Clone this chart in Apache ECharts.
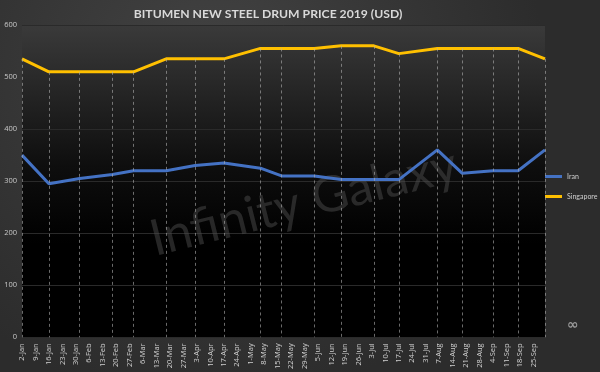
<!DOCTYPE html>
<html>
<head>
<meta charset="utf-8">
<script src="https://cdn.jsdelivr.net/npm/echarts@6/dist/echarts.min.js"></script>
<style>html,body{margin:0;padding:0;background:#333;}#c{width:600px;height:372px;}</style>
</head>
<body>
<div id="c"></div>
<script>
// ---- data ----
var pointDates = ['2019-01-02','2019-01-16','2019-02-01','2019-02-18','2019-03-01','2019-03-18','2019-04-02','2019-04-17','2019-05-06','2019-05-17','2019-06-03','2019-06-17','2019-07-04','2019-07-17','2019-08-06','2019-08-19','2019-09-04','2019-09-17','2019-10-01'];
var iran      = [350,295,305,313,320,320,330,335,325,310,310,303,303,303,360,315,320,320,360];
var singapore = [535,510,510,510,510,535,535,535,555,555,555,560,560,545,555,555,555,555,535];
var tickLabels = ['2-Jan','9-Jan','16-Jan','23-Jan','30-Jan','6-Feb','13-Feb','20-Feb','27-Feb','6-Mar','13-Mar','20-Mar','27-Mar','3-Apr','10-Apr','17-Apr','24-Apr','1-May','8-May','15-May','22-May','29-May','5-Jun','12-Jun','19-Jun','26-Jun','3-Jul','10-Jul','17-Jul','24-Jul','31-Jul','7-Aug','14-Aug','21-Aug','28-Aug','4-Sep','11-Sep','18-Sep','25-Sep'];
var yTicks = [0,100,200,300,400,500,600];
var seriesNames = ['Iran','Singapore'];
var titleText = 'BITUMEN NEW STEEL DRUM PRICE 2019 (USD)';
var watermark = 'Infinity Galaxy';

// ---- helpers ----
var origin = Date.UTC(2019,0,2);
function dayOffset(s){ var p = s.split('-'); return (Date.UTC(+p[0], +p[1]-1, +p[2]) - origin)/86400000; }
var xs = pointDates.map(dayOffset);
function pairs(vals){ return xs.map(function(x,i){ return [x, vals[i]]; }); }
var dropLines = xs.map(function(x,i){ return [{coord:[x, singapore[i]]},{coord:[x, 0]}]; });

var chart = echarts.init(document.getElementById('c'), null, {renderer:'canvas'});
chart.setOption({
  backgroundColor: {type:'radial', x:0.35, y:0.2, r:0.9, colorStops:[{offset:0,color:'#434343'},{offset:1,color:'#2c2c2c'}]},
  animation: false,
  title: {
    text: titleText, left: 263, top: 3, textAlign: 'center',
    textStyle: {color:'#d9d9d9', fontSize:12.2, fontWeight:'bold', fontFamily:'Lato'}
  },
  legend: {
    data: seriesNames, orient:'vertical', left: 545, top: 173, itemGap: 13, padding: 0,
    itemWidth: 17, itemHeight: 3, icon: 'rect',
    textStyle: {color:'#d0d0d0', fontSize:7, fontFamily:'Lato'}
  },
  grid: {
    left: 22, right: 55, top: 25, bottom: 32, show: true, borderWidth: 0,
    backgroundColor: {type:'linear', x:0, y:0, x2:0, y2:1, colorStops:[{offset:0,color:'#3a3a3a'},{offset:0.45,color:'#0e0e0e'},{offset:0.7,color:'#000000'},{offset:1,color:'#000000'}]}
  },
  graphic: [{
    type:'text', left: 145, top: 140, rotation: 14*Math.PI/180, z: 2,
    style: {text: watermark, fill:'rgba(75,75,75,0.5)', font:'normal 50px Lato'}
  },{
    type:'text', left: 567, top: 318, z: 5,
    style: {text:'∞', fill:'#9a9a9a', font:'bold 14px "DejaVu Sans"'}
  }],
  xAxis: {
    type: 'value', min: 0, max: dayOffset('2019-10-01'), interval: 7,
    axisLine: {show:false}, axisTick: {show:false}, splitLine: {show:false},
    axisLabel: {
      rotate: 90, color:'#d0d0d0', fontSize: 7.5, fontFamily:'Open Sans', margin: 6,
      showMaxLabel: false,
      formatter: function(v){ return (v % 7 === 0 && tickLabels[v/7]) ? tickLabels[v/7] : ''; }
    }
  },
  yAxis: {
    type: 'value', min: yTicks[0], max: yTicks[yTicks.length-1], interval: 100,
    axisLine: {show:false}, axisTick: {show:false},
    splitLine: {lineStyle:{color:'#2a2a2a', width:1}},
    axisLabel: {color:'#c8c8c8', fontSize: 7.5, fontFamily:'Open Sans', margin: 5}
  },
  series: [{
    name: 'drop', type: 'line', data: pairs(singapore), symbol:'none', silent:true,
    lineStyle: {opacity:0}, z: 1, legendHoverLink:false,
    markLine: {
      silent:true, symbol:['none','none'], label:{show:false},
      lineStyle:{color:'#b0b0b0', type:[3,3], width:1, opacity:0.6},
      data: dropLines, animation:false
    }
  },{
    name: seriesNames[0], type: 'line', data: pairs(iran), symbol: 'none', z: 3,
    itemStyle: {color:'#4472C4'}, lineStyle: {color:'#4472C4', width: 3}
  },{
    name: seriesNames[1], type: 'line', data: pairs(singapore), symbol: 'none', z: 3,
    itemStyle: {color:'#FFC000'}, lineStyle: {color:'#FFC000', width: 3}
  }]
});
</script>
</body>
</html>
